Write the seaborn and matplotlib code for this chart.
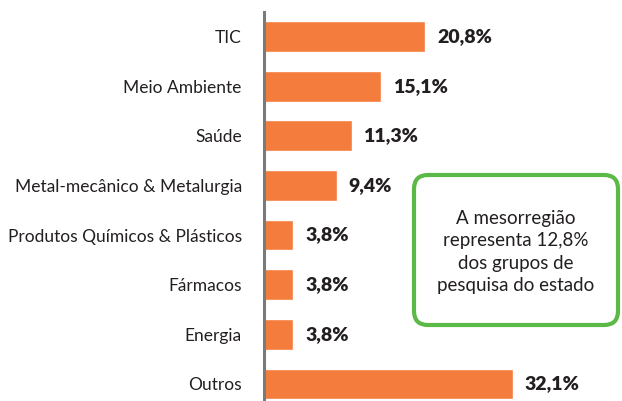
import matplotlib

matplotlib.use("Agg")

import matplotlib.pyplot as plt
import seaborn as sns
import pandas as pd
from matplotlib.patches import FancyBboxPatch

categories = ["TIC", "Meio Ambiente", "Saúde", "Metal-mecânico & Metalurgia",
              "Produtos Químicos & Plásticos", "Fármacos", "Energia", "Outros"]
shares = [20.8, 15.1, 11.3, 9.4, 3.8, 3.8, 3.8, 32.1]
value_labels = ["20,8%", "15,1%", "11,3%", "9,4%", "3,8%", "3,8%", "3,8%", "32,1%"]
note_text = "A mesorregião\nrepresenta 12,8%\ndos grupos de\npesquisa do estado"

sns.set_style("white")
plt.rcParams["font.family"] = ["Lato", "DejaVu Sans"]

df = pd.DataFrame({"categoria": categories, "percentual": shares})

fig = plt.figure(figsize=(6.22, 4.01), dpi=100)
ax = fig.add_axes([264 / 622, 0, 358 / 622, (401 - 11.7) / 401])

sns.barplot(data=df, x="percentual", y="categoria", color="#F47C3C",
            width=0.62, saturation=1, ax=ax)

ax.set_xlim(0, 358 / 7.76)
ax.set_ylim(7 + 17 / 49.6, -0.5)
ax.set_xlabel("")
ax.set_ylabel("")
ax.set_xticks([])
ax.tick_params(axis="y", length=0, pad=16, labelsize=12.5, labelcolor="#231f20")

for side in ["top", "right", "bottom"]:
    ax.spines[side].set_visible(False)
ax.spines["left"].set_color("#7a7a7a")
ax.spines["left"].set_linewidth(2.2)

for i, (v, lab) in enumerate(zip(shares, value_labels)):
    ax.text(v + 1.5, i, lab, va="center", ha="left", fontsize=14,
            fontweight="heavy", color="#231f20")

box = FancyBboxPatch((414, 76), 204, 150, boxstyle="round,pad=0,rounding_size=14",
                     transform=None, facecolor="white", edgecolor="#5BB947",
                     linewidth=3, figure=fig)
fig.patches.append(box)
fig.text(516 / 622, 1 - 252 / 401, note_text, ha="center", va="center",
         fontsize=13.5, color="#231f20", linespacing=1.4)

fig.savefig("out.png", dpi=100)
